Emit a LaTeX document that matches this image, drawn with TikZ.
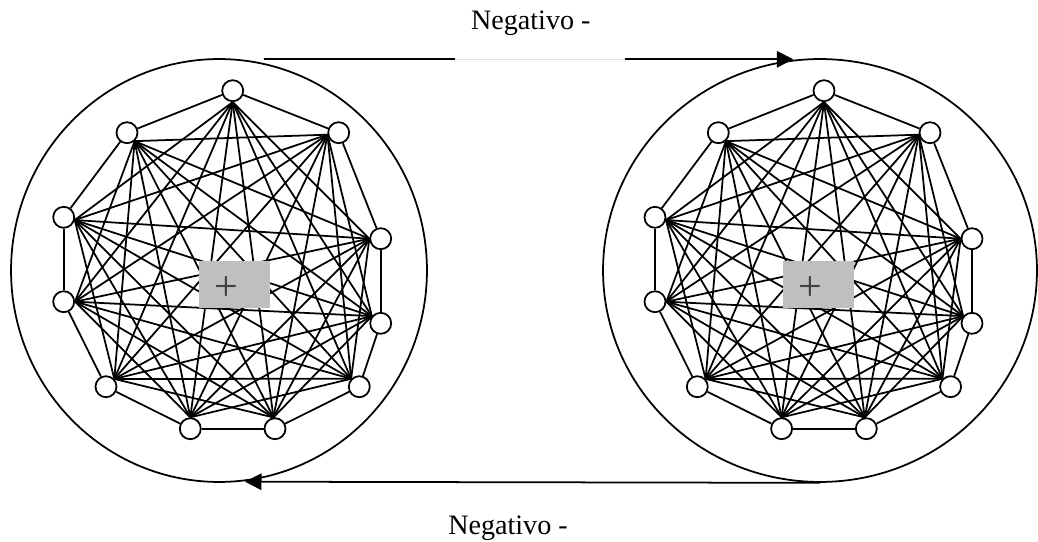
\documentclass[tikz,border=0pt]{standalone}
\usepackage{fontspec}
\setmainfont{Liberation Serif}
\usepackage{tikz}
\usetikzlibrary{shapes.geometric, arrows.meta}

\tikzset{
  ring/.style={draw, ellipse, inner sep=0pt, minimum height=8.46cm},
  vtx/.style={draw, circle, fill=white, inner sep=0pt, minimum size=0.42cm},
  core/.style={fill=black!25, inner sep=0pt, minimum width=1.42cm, minimum height=0.93cm},
  lbl/.style={font=\fontsize{16}{19}\selectfont},
  plus/.style={font=\fontsize{24}{28}\selectfont, text=black!75},
  flow/.style={-{Triangle[length=0.33cm, width=0.33cm]}}
}

\begin{document}
\begin{tikzpicture}[x=0.02cm, y=-0.02cm, line width=1pt]
  \useasboundingbox (0,0) rectangle (1038,541);

  \node[ring, minimum width=8.32cm] (lring) at (219,270.5) {};
  \node[ring, minimum width=8.68cm] (rring) at (820,270.5) {};

  % the two graphs, every vertex joined to every other one
  \foreach \g/\dx in {a/0, b/591.3} {
    \begin{scope}[shift={(\dx,0)}]
      \foreach \i/\x/\y/\h in {1/232.7/90.7/-90, 2/338.7/132.7/190, 3/380.7/238.7/180,
          4/380.7/323.3/141, 5/359.3/386.7/136, 6/275/428.7/98, 7/190.3/428.7/90,
          8/106/386.7/43, 9/63.7/301.7/0, 10/63.7/217.3/-14, 11/127/132.7/-48} {
        \node[vtx] (\g\i) at (\x,\y) {};
        \coordinate (\g\i h) at (\g\i.\h);
      }
      % outer ring of the graph
      \foreach \i [evaluate=\i as \j using {int(mod(\i,11)+1)}] in {1,...,11}
        \draw (\g\i) -- (\g\j);
      % chords
      \foreach \i in {1,...,9} {
        \pgfmathtruncatemacro\lo{\i+2}
        \pgfmathtruncatemacro\hi{\i==1 ? 10 : 11}
        \foreach \j in {\lo,...,\hi}
          \draw (\g\i h) -- (\g\j h);
      }
    \end{scope}
  }

  \node[core, label={[xshift=-0.16cm, yshift=-0.08cm, plus]center:+}] (lcore) at (234.5,284.3) {};
  \node[core, label={[xshift=-0.16cm, yshift=-0.08cm, plus]center:+}] (rcore) at (818.7,284.3) {};

  % arrows between the two rings
  \coordinate (ts) at (264,59.3);
  \coordinate (te) at (793.3,59.3);
  \coordinate (be) at (245,481.7);
  \draw[flow] (ts) -- (te);
  \fill[white] (455,56) rectangle (625,63);
  \draw[black!12, line width=0.4pt] (455,59.3) -- (625,59.3);
  \draw[flow] (rring.south) -- (be);

  \node[lbl, anchor=base] (ttop) at (530.8,29.3) {Negativo -};
  \node[lbl, anchor=base] (tbot) at (508,534) {Negativo -};
\end{tikzpicture}
\end{document}
